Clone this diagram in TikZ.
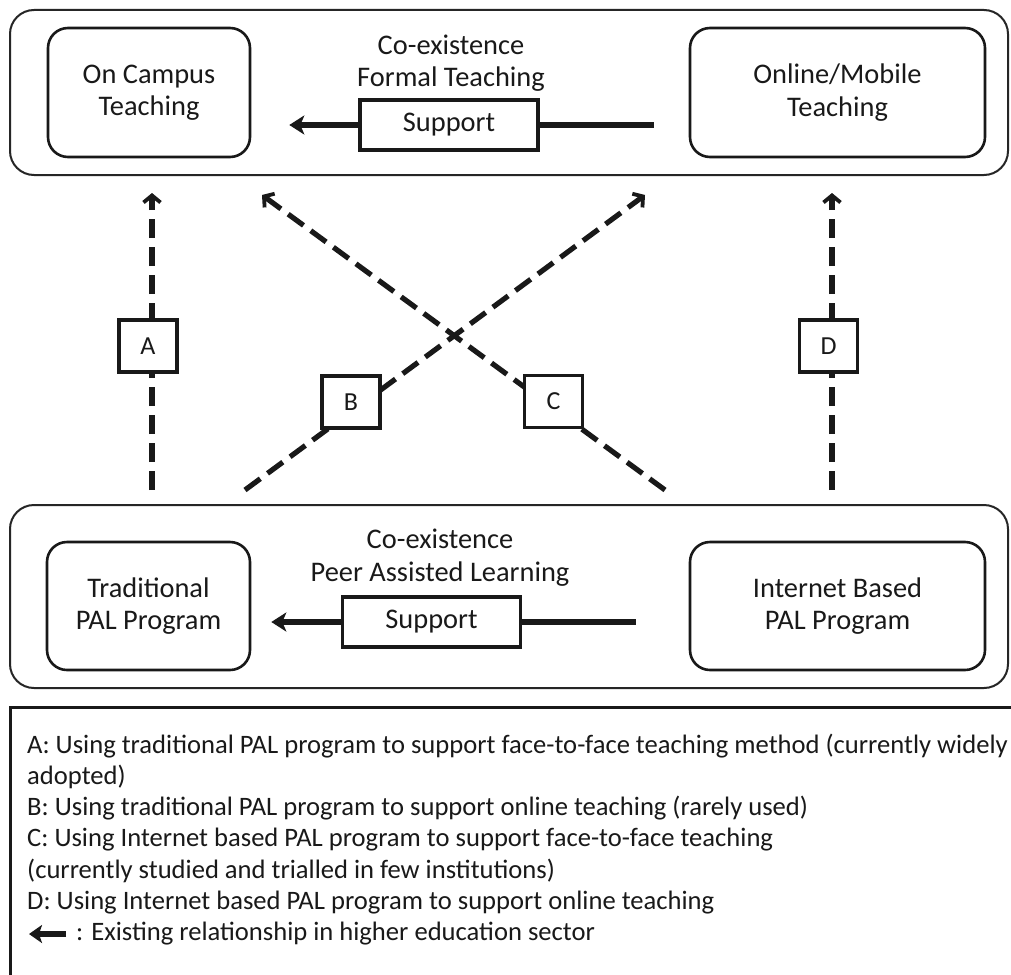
\documentclass[tikz,border=0pt]{standalone}
\usepackage{fontspec}
\setmainfont{Carlito}
\usetikzlibrary{arrows.meta}
\tikzset{
  outerbox/.style={draw=black!85, line width=2pt, rounded corners=24pt, inner sep=0pt},
  innerbox/.style={draw=black!90, line width=2.6pt, rounded corners=20pt, align=center, inner sep=0pt},
  supbox/.style={draw=black!90, line width=3.2pt, fill=white, inner sep=0pt, minimum width=178pt, minimum height=50pt},
  lblbox/.style={draw=black!90, line width=3.2pt, fill=white, inner sep=0pt, minimum width=58pt, minimum height=52pt},
  maintxt/.style={font=\fontsize{28.4}{32.5}\selectfont, text=black!90},
  lbltxt/.style={font=\fontsize{26}{30}\selectfont, text=black!90},
  legtxt/.style={font=\fontsize{26.6}{31}\selectfont, text=black!90, anchor=base west, inner sep=0pt},
  solidarr/.style={line width=6pt, draw=black!90, -{Stealth[length=15pt, width=19pt, inset=4pt]}},
  dasharr/.style={line width=5.2pt, draw=black!90, dash pattern=on 19pt off 9pt, -{Straight Barb[length=7pt, width=17pt, line width=3.8pt]}},
}
\begin{document}
\begin{tikzpicture}[x=1pt, y=-1pt]
\useasboundingbox (0,0) rectangle (1011,974);
\fill[white] (0,0) rectangle (1011,974);

% top group
\node[outerbox, minimum width=998pt, minimum height=165pt] (topbox) at (509,92.5) {};
\node[innerbox, maintxt, minimum width=202pt, minimum height=129pt] (oncampus) at (149,92.5) {On Campus\\Teaching};
\node[innerbox, maintxt, minimum width=295pt, minimum height=129pt] (online) at (837.5,92.5) {Online/Mobile\\Teaching};
\node[maintxt, align=center, inner sep=0pt] (coex1) at (451,63) {Co-existence\\Formal Teaching};
\coordinate (s1) at (449,125);
\draw[solidarr, shorten <=35pt, shorten >=38pt] (online.west |- s1) -- (oncampus.east |- s1);
\node[supbox, maintxt] (sup1) at (s1) {Support};

% bottom group
\node[outerbox, minimum width=998pt, minimum height=183pt] (botbox) at (509,596.5) {};
\node[innerbox, maintxt, minimum width=203pt, minimum height=128pt] (trad) at (148.5,606) {Traditional\\PAL Program};
\node[innerbox, maintxt, minimum width=295pt, minimum height=128pt] (inet) at (837.5,606) {Internet Based\\PAL Program};
\node[maintxt, align=center, inner sep=0pt] (coex2) at (440,557.5) {Co-existence\\Peer Assisted Learning};
\coordinate (s2) at (431.5,622);
\draw[solidarr, shorten <=53pt, shorten >=20pt] (inet.west |- s2) -- (trad.east |- s2);
\node[supbox, maintxt] (sup2) at (s2) {Support};

% dashed relations
\coordinate (a0) at (152,490); \coordinate (a1) at (152,193);
\coordinate (b0) at (245,490); \coordinate (b1) at (645,195);
\coordinate (c0) at (665,490); \coordinate (c1) at (262,195);
\coordinate (d0) at (832,490); \coordinate (d1) at (832,193);
\draw[dasharr] (a0) -- (a1);
\draw[dasharr] (b0) -- (b1);
\draw[dasharr] (c0) -- (c1);
\draw[dasharr] (d0) -- (d1);
\node[lblbox, lbltxt] (lA) at (148,346) {A};
\node[lblbox, lbltxt] (lB) at (351,402) {B};
\node[lblbox, lbltxt] (lC) at (553.5,401.5) {C};
\node[lblbox, lbltxt] (lD) at (828.5,346) {D};

% legend
\draw[line width=3pt, black!90] (1020,707) -- (10,707) -- (10,990);
\node[legtxt] (la) at (27,753) {A: Using traditional PAL program to support face-to-face teaching method (currently widely};
\node[legtxt] (la2) at (27,784.3) {adopted)};
\node[legtxt] (lb) at (27,815.6) {B: Using traditional PAL program to support online teaching (rarely used)};
\node[legtxt] (lc) at (27,846.9) {C: Using Internet based PAL program to support face-to-face teaching};
\node[legtxt] (lc2) at (27,878.2) {(currently studied and trialled in few institutions)};
\node[legtxt] (ld) at (27,909.5) {D: Using Internet based PAL program to support online teaching};
\coordinate (le0) at (66,934); \coordinate (le1) at (29,934);
\draw[line width=5.5pt, black!90, -{Stealth[length=13pt, width=18pt, inset=3pt]}] (le0) -- (le1);
\node[legtxt] (le) at (76,940.8) {: Existing relationship in higher education sector};
\end{tikzpicture}
\end{document}
